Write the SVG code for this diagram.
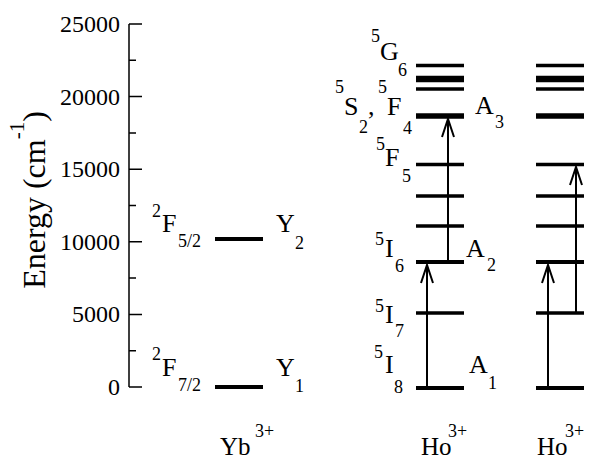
<svg xmlns="http://www.w3.org/2000/svg" width="594" height="457" viewBox="0 0 594 457">
  <defs>
    <style>
      .t { font-size: 26px; }
      .s { font-size: 18px; }
      .tick { font-size: 24px; text-anchor: end; }
      .ax { stroke: #000; stroke-width: 1.5; fill: none; }
      .lv { stroke: #000; stroke-width: 4; }
      .lvt { stroke: #000; stroke-width: 5.5; }
      .lvn { stroke: #000; stroke-width: 3.5; }
      .ar { stroke: #000; stroke-width: 2; fill: none; marker-end: url(#ah); }
    </style>
    <marker id="ah" viewBox="-20 -8 22 16" markerWidth="22" markerHeight="16" refX="0" refY="0" markerUnits="userSpaceOnUse" orient="auto" overflow="visible">
      <path d="M-18,-6 L0,0 L-18,6" fill="none" stroke="#000" stroke-width="2"/>
    </marker>
  </defs>
  <rect width="594" height="457" fill="#fff"/>

  <g font-family="Liberation Serif, Times New Roman, Times, serif" fill="#000">
  <g id="axis">
    <path class="ax" d="M129,24 V387 M129,24 H142 M129,96.6 H142 M129,169.2 H142 M129,241.8 H142 M129,314.4 H142 M129,387 H142 M129,60.3 H136 M129,132.9 H136 M129,205.5 H136 M129,278.1 H136 M129,350.7 H136"/>
    <text class="tick" x="120" y="32">25000</text>
    <text class="tick" x="120" y="104.6">20000</text>
    <text class="tick" x="120" y="177.2">15000</text>
    <text class="tick" x="120" y="249.8">10000</text>
    <text class="tick" x="120" y="322.4">5000</text>
    <text class="tick" x="120" y="395">0</text>
    <text transform="translate(45,200) rotate(-90)" text-anchor="middle" font-size="32">Energy (cm<tspan dy="-21" font-size="21">-1</tspan><tspan dy="21">)</tspan></text>
  </g>

  <g id="yb">
    <g id="yb-Y2">
      <line class="lv" x1="215" y1="239" x2="263" y2="239"/>
      <text class="t"><tspan class="s" x="152" y="217">2</tspan><tspan x="162" y="232">F</tspan><tspan class="s" x="178" y="247">5/2</tspan></text>
      <text class="t"><tspan x="276" y="232">Y</tspan><tspan class="s" x="295" y="249">2</tspan></text>
    </g>
    <g id="yb-Y1">
      <line class="lv" x1="215" y1="387" x2="263" y2="387"/>
      <text class="t"><tspan class="s" x="152" y="360">2</tspan><tspan x="162" y="376">F</tspan><tspan class="s" x="178" y="391">7/2</tspan></text>
      <text class="t"><tspan x="276" y="376">Y</tspan><tspan class="s" x="295" y="392">1</tspan></text>
    </g>
    <text font-size="25"><tspan x="220" y="455">Yb</tspan><tspan class="s" x="255" y="437">3+</tspan></text>
  </g>

  <g id="ho1">
    <g id="ho1-levels">
      <line class="lv" x1="416" y1="388" x2="464" y2="388"/>
      <line class="lvn" x1="416" y1="313" x2="464" y2="313"/>
      <line class="lv" x1="416" y1="262" x2="464" y2="262"/>
      <line class="lvn" x1="416" y1="226" x2="464" y2="226"/>
      <line class="lvn" x1="416" y1="196" x2="464" y2="196"/>
      <line class="lvn" x1="416" y1="164.5" x2="464" y2="164.5"/>
      <line class="lvt" x1="416" y1="116" x2="464" y2="116"/>
      <line class="lvn" x1="416" y1="89" x2="464" y2="89"/>
      <line class="lvt" x1="416" y1="79" x2="464" y2="79" style="stroke-width:6.5"/>
      <line class="lvn" x1="416" y1="65.5" x2="464" y2="65.5"/>
    </g>
    <g id="ho1-labels">
      <text class="t"><tspan class="s" x="371" y="42">5</tspan><tspan x="380" y="60">G</tspan><tspan class="s" x="398" y="76">6</tspan></text>
      <text class="t"><tspan class="s" x="335" y="93">5</tspan><tspan x="344" y="115">S</tspan><tspan class="s" x="359" y="133">2</tspan><tspan x="368" y="115">,</tspan><tspan class="s" x="378" y="93">5</tspan><tspan x="387" y="115">F</tspan><tspan class="s" x="403" y="134">4</tspan></text>
      <text class="t"><tspan class="s" x="376" y="150">5</tspan><tspan x="385" y="166">F</tspan><tspan class="s" x="402" y="182">5</tspan></text>
      <text class="t"><tspan class="s" x="375" y="245">5</tspan><tspan x="385" y="257">I</tspan><tspan class="s" x="395" y="272">6</tspan></text>
      <text class="t"><tspan class="s" x="375" y="312">5</tspan><tspan x="385" y="323">I</tspan><tspan class="s" x="395" y="337">7</tspan></text>
      <text class="t"><tspan class="s" x="374" y="358">5</tspan><tspan x="385" y="373">I</tspan><tspan class="s" x="394" y="393">8</tspan></text>
      <text class="t"><tspan x="475" y="114">A</tspan><tspan class="s" x="495" y="128">3</tspan></text>
      <text class="t"><tspan x="466" y="257">A</tspan><tspan class="s" x="487" y="271">2</tspan></text>
      <text class="t"><tspan x="469" y="373">A</tspan><tspan class="s" x="488" y="389">1</tspan></text>
      <text font-size="25"><tspan x="421" y="455">Ho</tspan><tspan class="s" x="448" y="437">3+</tspan></text>
    </g>
  </g>

  <g id="ho2">
    <line class="lv" x1="536" y1="388" x2="584" y2="388"/>
    <line class="lvn" x1="536" y1="313" x2="584" y2="313"/>
    <line class="lv" x1="536" y1="262" x2="584" y2="262"/>
    <line class="lvn" x1="536" y1="226" x2="584" y2="226"/>
    <line class="lvn" x1="536" y1="196" x2="584" y2="196"/>
    <line class="lvn" x1="536" y1="164.5" x2="584" y2="164.5"/>
    <line class="lvt" x1="536" y1="116" x2="584" y2="116"/>
    <line class="lvn" x1="536" y1="89" x2="584" y2="89"/>
    <line class="lvt" x1="536" y1="79" x2="584" y2="79" style="stroke-width:6.5"/>
    <line class="lvn" x1="536" y1="65.5" x2="584" y2="65.5"/>
    <text font-size="25"><tspan x="537" y="455">Ho</tspan><tspan class="s" x="565" y="437">3+</tspan></text>
  </g>
  </g>

  <g id="connectors">
    <line class="ar" x1="427" y1="388" x2="427" y2="265"/>
    <line class="ar" x1="448" y1="262" x2="448" y2="119"/>
    <line class="ar" x1="548" y1="388" x2="548" y2="265"/>
    <line class="ar" x1="576" y1="313" x2="576" y2="167"/>
  </g>
</svg>
